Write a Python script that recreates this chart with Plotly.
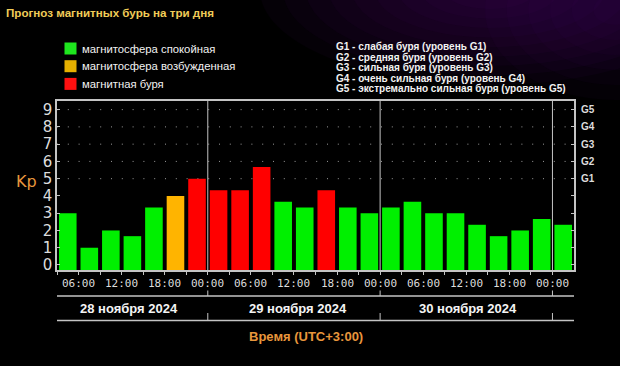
import plotly.graph_objects as go

# ---------------- data ----------------
title_text = "Прогноз магнитных бурь на три дня"

# start of each 3-hour interval, hours since 28 Nov 2024 00:00 (UTC+3)
slot_start_hours = [3, 6, 9, 12, 15, 18, 21,
                    24, 27, 30, 33, 36, 39, 42, 45,
                    48, 51, 54, 57, 60, 63, 66, 69,
                    72]
kp_values = [
    3.0, 1.0, 2.0, 1.67, 3.33, 4.0, 5.0,
    4.33, 4.33, 5.67, 3.67, 3.33, 4.33, 3.33, 3.0,
    3.33, 3.67, 3.0, 3.0, 2.33, 1.67, 2.0, 2.67,
    2.33,
]
statuses = [
    "quiet", "quiet", "quiet", "quiet", "quiet", "active", "storm",
    "storm", "storm", "storm", "quiet", "quiet", "storm", "quiet", "quiet",
    "quiet", "quiet", "quiet", "quiet", "quiet", "quiet", "quiet", "quiet",
    "quiet",
]
status_order = ["quiet", "active", "storm"]
status_labels = ["магнитосфера спокойная", "магнитосфера возбужденная", "магнитная буря"]
status_colors = {"quiet": "#00f000", "active": "#ffb400", "storm": "#ff0000"}
legend_square_colors = {"quiet": "#1ee61e", "active": "#e6b000", "storm": "#ff1010"}

y_tick_vals = [0, 1, 2, 3, 4, 5, 6, 7, 8, 9]
g_level_kp = [5, 6, 7, 8, 9]
g_level_names = ["G1", "G2", "G3", "G4", "G5"]
g_descriptions = [
    "G1 - слабая буря (уровень G1)",
    "G2 - средняя буря (уровень G2)",
    "G3 - сильная буря (уровень G3)",
    "G4 - очень сильная буря (уровень G4)",
    "G5 - экстремально сильная буря (уровень G5)",
]

x_tick_hours = [6, 12, 18, 24, 30, 36, 42, 48, 54, 60, 66, 72]
x_tick_text = ["06:00", "12:00", "18:00", "00:00", "06:00", "12:00", "18:00", "00:00",
               "06:00", "12:00", "18:00", "00:00"]
x_range_hours = [3, 75]

day_labels = ["28 ноября 2024", "29 ноября 2024", "30 ноября 2024"]
day_label_hours = [13.0, 36.5, 60.25]
day_boundary_hours = [24, 48, 72]

y_axis_title = "Kp"
x_axis_title = "Время (UTC+3:00)"

# ---------------- layout constants ----------------
W, H = 620, 366
L, R, T, B = 57, 574, 101, 270
Y_MIN, Y_MAX = -0.29, 9.5
SLOT_H = 3
BAR_H = 2.45

AXIS_COL = "#c4c4c4"
TEXT_COL = "#dcdcdc"
ORANGE_TXT = "#e8963c"
FONT = "Liberation Sans"


def px(x):
    return (x - L) / (R - L)


def py(y):
    return (B - y) / (B - T)


fig = go.Figure()

fig.add_trace(go.Bar(
    x=[h + SLOT_H / 2 for h in slot_start_hours],
    y=[v - Y_MIN for v in kp_values],
    base=Y_MIN,
    width=BAR_H,
    marker=dict(color=[status_colors[s] for s in statuses], line=dict(width=0)),
    customdata=kp_values,
    hovertemplate="Kp %{customdata}<extra></extra>",
    showlegend=False,
))

shapes = []
# purple nebula glow in the top right corner (many faint layers -> soft gradient)
for cx, cy, rx, ry, n, a in [
    (490, -10, 230, 95, 10, 0.055),
    (615, 10, 130, 90, 6, 0.045),
]:
    for k in range(n):
        f = 1 - k / n
        shapes.append(dict(type="circle", xref="paper", yref="paper", layer="below",
                           x0=px(cx - rx * f), x1=px(cx + rx * f),
                           y0=py(cy + ry * f), y1=py(cy - ry * f),
                           fillcolor=f"rgba(100,25,130,{a})", line=dict(width=0)))
# dotted grid at G levels
for g in g_level_kp:
    shapes.append(dict(type="line", xref="paper", yref="y", layer="below",
                       x0=0, x1=1, y0=g, y1=g,
                       line=dict(color="#9a9a9a", width=1, dash="1px,9.8px")))
# day separators: inside the plot, short stubs above/below the hour labels, tick in date row
for d in day_boundary_hours:
    shapes.append(dict(type="line", xref="x", yref="paper", x0=d, x1=d,
                       y0=0, y1=1, line=dict(color=AXIS_COL, width=1)))
    shapes.append(dict(type="line", xref="x", yref="paper", x0=d, x1=d,
                       y0=py(296), y1=py(289.5), line=dict(color=AXIS_COL, width=1)))
    shapes.append(dict(type="line", xref="x", yref="paper", x0=d, x1=d,
                       y0=py(320.5), y1=py(313), line=dict(color=AXIS_COL, width=1)))
# horizontal rules around the dates
for yy in (296, 320.5):
    shapes.append(dict(type="line", xref="paper", yref="paper", x0=0, x1=1,
                       y0=py(yy), y1=py(yy), line=dict(color=AXIS_COL, width=1.5)))
# legend squares
for i, s in enumerate(status_order):
    cy = 48.5 + 17.7 * i
    shapes.append(dict(type="rect", xref="paper", yref="paper",
                       x0=px(64.5), x1=px(76.5), y0=py(cy + 6), y1=py(cy - 6),
                       fillcolor=legend_square_colors[s], line=dict(width=0)))

annotations = []
annotations.append(dict(text=f"<b>{title_text}</b>", xref="paper", yref="paper",
                        x=px(4), y=py(12.5), xanchor="left", yanchor="middle",
                        showarrow=False, font=dict(family=FONT, size=11.6, color="#f0cc58")))
for i, lab in enumerate(status_labels):
    cy = 48.5 + 17.7 * i
    annotations.append(dict(text=lab, xref="paper", yref="paper",
                            x=px(80), y=py(cy), xanchor="left", yanchor="middle",
                            showarrow=False, font=dict(family=FONT, size=11.3, color="#f2f2f2")))
for i, t in enumerate(g_descriptions):
    annotations.append(dict(text=f"<b>{t}</b>", xref="paper", yref="paper",
                            x=px(334), y=py(46.5 + 10.5 * i), xanchor="left", yanchor="middle",
                            showarrow=False, font=dict(family=FONT, size=10, color="#f2f2f2")))
# G levels on the right-hand side
for gk, gn in zip(g_level_kp, g_level_names):
    annotations.append(dict(text=f"<b>{gn}</b>", xref="paper", yref="y",
                            x=px(579), y=gk, xanchor="left", yanchor="middle",
                            showarrow=False, font=dict(family=FONT, size=10, color=TEXT_COL)))
annotations.append(dict(text=y_axis_title, xref="paper", yref="paper",
                        x=px(26), y=py(181), xanchor="center", yanchor="middle",
                        showarrow=False, font=dict(family="DejaVu Sans", size=16, color=ORANGE_TXT)))
for lab, pos in zip(day_labels, day_label_hours):
    annotations.append(dict(text=f"<b>{lab}</b>", xref="x", yref="paper",
                            x=pos, y=py(308), xanchor="center", yanchor="middle",
                            showarrow=False, font=dict(family=FONT, size=13, color="#f4f4f4")))
annotations.append(dict(text=f"<b>{x_axis_title}</b>", xref="paper", yref="paper",
                        x=px(306), y=py(336), xanchor="center", yanchor="middle",
                        showarrow=False, font=dict(family=FONT, size=13, color=ORANGE_TXT)))
# hour labels under the axis (drawn last, on an opaque black box)
for hv, ht in zip(x_tick_hours, x_tick_text):
    annotations.append(dict(text=ht, xref="x", yref="paper",
                            x=hv, y=py(283.5), xanchor="center", yanchor="middle",
                            showarrow=False, bgcolor="#000000", borderpad=0,
                            font=dict(family="DejaVu Sans Mono", size=11, color=TEXT_COL)))

fig.update_layout(
    width=W, height=H,
    margin=dict(l=L, r=W - R, t=T, b=H - B, pad=0),
    paper_bgcolor="#000000", plot_bgcolor="#000000",
    barmode="overlay",
    showlegend=False,
    shapes=shapes,
    annotations=annotations,
    xaxis=dict(
        range=x_range_hours,
        tickvals=slot_start_hours, showticklabels=False,
        ticks="outside", ticklen=3, tickcolor=AXIS_COL, tickwidth=1,
        showline=True, linecolor=AXIS_COL, linewidth=1.5, mirror=True,
        showgrid=False, zeroline=False, fixedrange=True,
    ),
    yaxis=dict(
        range=[Y_MIN, Y_MAX], tickvals=y_tick_vals,
        ticks="inside", ticklen=3, tickcolor=AXIS_COL,
        tickfont=dict(family="DejaVu Sans", size=15, color=TEXT_COL),
        showline=True, linecolor=AXIS_COL, linewidth=1.5, mirror="ticks",
        showgrid=False, zeroline=False, fixedrange=True,
    ),
)

fig.write_html(
    "out.html",
    config={"displayModeBar": False},
    post_script="document.body.style.margin='0';document.body.style.background='#000';",
)
